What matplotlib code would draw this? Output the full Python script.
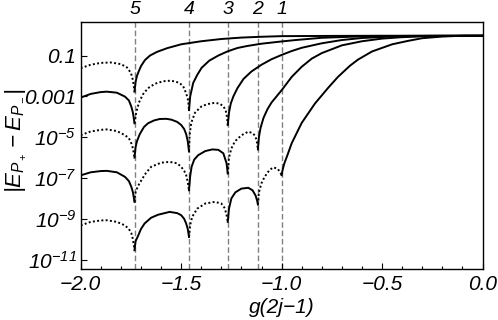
import matplotlib
matplotlib.use('Agg')
import numpy as np
import matplotlib.pyplot as plt
from matplotlib.ticker import FixedLocator, MultipleLocator, NullLocator

# positions of the level crossings (dashed lines) and their labels
CUSPS = [-1.732, -1.461, -1.268, -1.118, -1.0]
CUSP_LABELS = ['5', '4', '3', '2', '1']

# y tick positions (log10) and labels
TICK_EXP = [-1, -3, -5, -7, -9, -11]
TICK_LABELS = ['0.1', '0.001', '$10^{-5}$', '$10^{-7}$', '$10^{-9}$', '$10^{-11}$']

# curves: x and log10|E_P+ - E_P-|
c1_x = [-2.0, -1.95, -1.9, -1.85, -1.8, -1.77, -1.75, -1.74, -1.732, -1.727, -1.72, -1.71, -1.70,
        -1.68, -1.655, -1.62, -1.57, -1.5, -1.4, -1.3, -1.2, -1.1, -1.0, -0.8, -0.5, -0.2, 0.0]
c1_y = [-1.62, -1.45, -1.36, -1.34, -1.42, -1.58, -1.85, -2.2, -2.77, -2.3, -2.0, -1.75, -1.52,
        -1.22, -1.0, -0.82, -0.64, -0.45, -0.3, -0.19, -0.12, -0.08, -0.05, -0.04, -0.03, -0.03, -0.03]

c2_x = [-2.0, -1.95, -1.9, -1.87, -1.82, -1.78, -1.76, -1.748, -1.74, -1.732, -1.724, -1.71, -1.69,
        -1.665, -1.63, -1.59, -1.55, -1.51, -1.49, -1.475, -1.465, -1.461, -1.455, -1.44, -1.42,
        -1.398, -1.36, -1.315, -1.27, -1.22, -1.17, -1.1, -1.0, -0.93, -0.8, -0.6, -0.4, -0.2, 0.0]
c2_y = [-3.06, -2.88, -2.79, -2.77, -2.82, -3.01, -3.2, -3.5, -3.8, -4.32, -3.8, -3.3, -2.9,
        -2.6, -2.38, -2.26, -2.23, -2.33, -2.5, -2.85, -3.2, -3.67, -3.0, -2.34, -1.95,
        -1.6, -1.25, -1.0, -0.8, -0.63, -0.53, -0.42, -0.31, -0.24, -0.13, -0.06, -0.04, -0.03, -0.03]

c3_x = [-2.0, -1.95, -1.9, -1.87, -1.82, -1.78, -1.76, -1.748, -1.74, -1.732, -1.727, -1.72, -1.706,
        -1.685, -1.665, -1.635, -1.607, -1.575, -1.549, -1.52, -1.5, -1.485, -1.475, -1.467, -1.461,
        -1.458, -1.45, -1.431, -1.4, -1.37, -1.335, -1.31, -1.29, -1.278, -1.272, -1.268, -1.262,
        -1.253, -1.24, -1.22, -1.19, -1.15, -1.1, -1.05, -1.0, -0.95, -0.9, -0.8, -0.7, -0.6,
        -0.45, -0.3, 0.0]
c3_y = [-4.90, -4.72, -4.64, -4.62, -4.70, -4.90, -5.05, -5.3, -5.55, -6.0, -5.5, -5.2, -4.85,
        -4.5, -4.32, -4.18, -4.11, -4.10, -4.14, -4.25, -4.40, -4.6, -4.85, -5.2, -5.7,
        -4.9, -4.3, -3.8, -3.5, -3.38, -3.32, -3.35, -3.48, -3.7, -4.0, -4.4, -3.8,
        -3.35, -3.0, -2.6, -2.15, -1.78, -1.45, -1.18, -0.97, -0.78, -0.62, -0.4, -0.24, -0.14,
        -0.07, -0.04, -0.03]

c4_x = [-2.0, -1.95, -1.9, -1.87, -1.82, -1.78, -1.76, -1.748, -1.74, -1.732, -1.727, -1.715, -1.698,
        -1.675, -1.649, -1.6, -1.557, -1.52, -1.5, -1.485, -1.475, -1.467, -1.461, -1.455, -1.448,
        -1.435, -1.415, -1.38, -1.345, -1.315, -1.29, -1.274, -1.268, -1.262, -1.25, -1.232, -1.199,
        -1.166, -1.145, -1.133, -1.124, -1.118, -1.113, -1.105, -1.09, -1.07, -1.05, -1.0, -0.95,
        -0.9, -0.85, -0.8, -0.7, -0.6, -0.5, -0.4, -0.3, -0.15, 0.0]
c4_y = [-6.87, -6.72, -6.66, -6.65, -6.72, -6.94, -7.15, -7.43, -7.7, -8.17, -7.7, -7.4, -7.11,
        -6.75, -6.45, -6.25, -6.21, -6.28, -6.45, -6.65, -6.86, -7.2, -7.60, -6.9, -6.45,
        -6.1, -5.88, -5.68, -5.60, -5.62, -5.79, -6.28, -6.78, -6.0, -5.55, -5.2, -4.90,
        -4.73, -4.8, -4.92, -5.15, -5.6, -5.0, -4.55, -4.05, -3.62, -3.3, -2.7, -2.05,
        -1.55, -1.15, -0.88, -0.5, -0.3, -0.17, -0.1, -0.06, -0.04, -0.03]

c5_x = [-2.0, -1.95, -1.9, -1.87, -1.82, -1.78, -1.76, -1.748, -1.74, -1.732, -1.727, -1.715, -1.70,
        -1.682, -1.65, -1.615, -1.557, -1.52, -1.5, -1.485, -1.475, -1.467, -1.461, -1.455, -1.445,
        -1.42, -1.38, -1.332, -1.30, -1.285, -1.275, -1.268, -1.262, -1.25, -1.23, -1.2, -1.166,
        -1.145, -1.13, -1.122, -1.118, -1.113, -1.1, -1.085, -1.06, -1.04, -1.02, -1.008, -1.0,
        -0.995, -0.987, -0.97, -0.95, -0.9, -0.834, -0.77, -0.72, -0.66, -0.62, -0.55, -0.45,
        -0.37, -0.3, -0.2, -0.1, 0.0]
c5_y = [-9.32, -9.15, -9.08, -9.07, -9.15, -9.32, -9.5, -9.7, -10.0, -10.54, -10.1, -9.85, -9.5,
        -9.23, -8.95, -8.8, -8.66, -8.72, -8.82, -9.0, -9.23, -9.5, -9.89, -9.3, -8.9,
        -8.5, -8.25, -8.17, -8.25, -8.45, -8.75, -9.15, -8.5, -8.0, -7.7, -7.52, -7.48,
        -7.6, -7.85, -8.1, -8.3, -7.7, -7.25, -6.95, -6.6, -6.48, -6.55, -6.70, -6.86,
        -6.6, -6.3, -5.85, -5.3, -4.3, -3.35, -2.6, -2.05, -1.5, -1.2, -0.8, -0.45,
        -0.28, -0.15, -0.07, -0.03, -0.03]

# (x, y, number of sign changes, starts dotted?)
CURVES = [(c1_x, c1_y, 1, True), (c2_x, c2_y, 2, False), (c3_x, c3_y, 3, True),
          (c4_x, c4_y, 4, False), (c5_x, c5_y, 5, True)]

plt.rcParams['font.family'] = 'Liberation Sans'
plt.rcParams['font.style'] = 'italic'
plt.rcParams['mathtext.fontset'] = 'custom'
plt.rcParams['mathtext.rm'] = 'Liberation Sans:italic'
plt.rcParams['mathtext.it'] = 'Liberation Sans:italic'
plt.rcParams['mathtext.sf'] = 'Liberation Sans:italic'

FS = 15

def segments(x, ly, cusps):
  cut = [i for i, v in enumerate(x) if v in cusps]
  bounds = [0] + cut + [len(x) - 1]
  for a, b in zip(bounds[:-1], bounds[1:]):
    yield x[a:b + 1], ly[a:b + 1]

fig = plt.figure(figsize=(4.98, 3.20), dpi=100)
ax = fig.add_axes([0.162, 0.158, 0.807, 0.774])

for c, lab in zip(CUSPS, CUSP_LABELS):
  ax.axvline(c, color='#808080', lw=1.0, ls=(0, (4, 2)), zorder=1)
  ax.text(c, 1.015, lab, transform=ax.get_xaxis_transform(), ha='center', va='bottom', fontsize=FS - 1)

for x, ly, n, dotted in CURVES:
  for sx, sy in segments(x, ly, CUSPS[:n]):
    ls = (0, (1.0, 1.2)) if dotted else '-'
    ax.plot(sx, 10.0 ** np.array(sy), color='black', lw=1.4, ls=ls, zorder=2)
    dotted = not dotted

ax.set_yscale('log')
ax.set_xlim(-2.0, 0.0)
ax.set_ylim(10 ** -11.48, 10 ** 0.655)
ax.yaxis.set_major_locator(FixedLocator([10.0 ** e for e in TICK_EXP]))
ax.yaxis.set_minor_locator(NullLocator())
ax.set_yticklabels(TICK_LABELS)
ax.xaxis.set_major_locator(MultipleLocator(0.5))
ax.xaxis.set_minor_locator(MultipleLocator(0.1))
ax.xaxis.set_major_formatter(lambda v, p: f'{v:.1f}'.replace('-', '\u2212'))

ax.tick_params(which='both', direction='in', top=False, right=False, labelsize=FS, width=0.8)
ax.tick_params(which='major', length=4)
ax.tick_params(which='minor', length=2.2)
ax.tick_params(axis='x', pad=4)
ax.tick_params(axis='y', pad=3)
for s in ax.spines.values():
  s.set_linewidth(1.0)

ax.set_xlabel('g(2j\u22121)', fontsize=FS, labelpad=3)
fig.text(0.032, 0.56, r'$|E_{P_+}-E_{P_-}|$', rotation=90, ha='center', va='center', fontsize=FS + 1)

fig.savefig('out.png', dpi=100)
